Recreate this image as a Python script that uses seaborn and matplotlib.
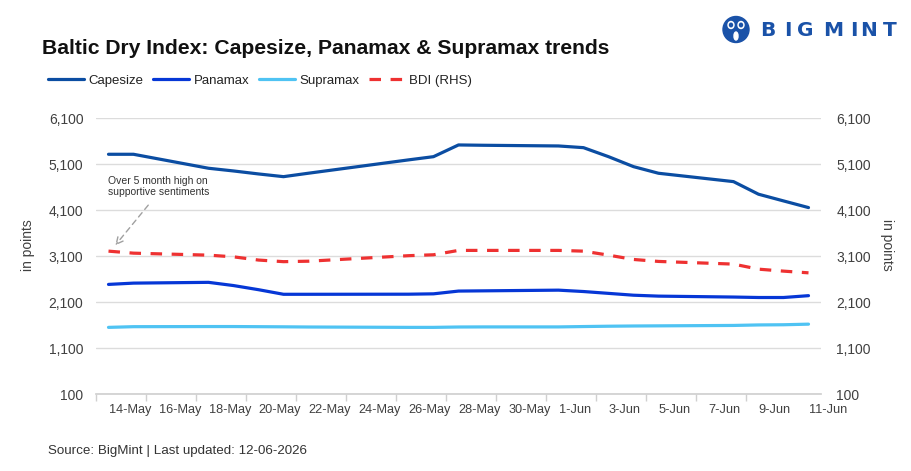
import numpy as np
import pandas as pd
import matplotlib
matplotlib.use("Agg")
import matplotlib.pyplot as plt
import matplotlib.dates as mdates
from matplotlib.ticker import FuncFormatter
from matplotlib.patches import Circle, Ellipse
import seaborn as sns

# data
dates = ['2026-05-14', '2026-05-15', '2026-05-18', '2026-05-19', '2026-05-20',
         '2026-05-21', '2026-05-22', '2026-05-26', '2026-05-27', '2026-05-28',
         '2026-05-29', '2026-06-01', '2026-06-02', '2026-06-03', '2026-06-04',
         '2026-06-05', '2026-06-08', '2026-06-09', '2026-06-10', '2026-06-11']
capesize = [5317, 5317, 5013, 4954, 4889, 4830, 4905, 5195, 5265, 5520,
            5513, 5498, 5461, 5265, 5048, 4904, 4722, 4448, 4302, 4157]
panamax = [2485, 2513, 2530, 2460, 2370, 2270, 2270, 2272, 2280, 2340,
           2345, 2360, 2330, 2290, 2250, 2230, 2210, 2200, 2200, 2240]
supramax = [1550, 1565, 1568, 1568, 1565, 1562, 1558, 1550, 1550, 1558,
            1560, 1560, 1568, 1575, 1580, 1583, 1592, 1603, 1607, 1620]
bdi = [3209, 3165, 3122, 3085, 3015, 2980, 2990, 3110, 3130, 3225,
       3225, 3225, 3209, 3122, 3028, 2985, 2927, 2817, 2774, 2737]

xtick_dates = ['2026-05-14', '2026-05-16', '2026-05-18', '2026-05-20', '2026-05-22',
               '2026-05-24', '2026-05-26', '2026-05-28', '2026-05-30', '2026-06-01',
               '2026-06-03', '2026-06-05', '2026-06-07', '2026-06-09', '2026-06-11']
xtick_labels = ['14-May', '16-May', '18-May', '20-May', '22-May', '24-May', '26-May',
                '28-May', '30-May', '1-Jun', '3-Jun', '5-Jun', '7-Jun', '9-Jun', '11-Jun']
yticks = [100, 1100, 2100, 3100, 4100, 5100, 6100]

df = pd.DataFrame({'date': pd.to_datetime(dates), 'Capesize': capesize,
                   'Panamax': panamax, 'Supramax': supramax, 'BDI (RHS)': bdi})

sns.set_theme(style='white')
plt.rcParams['font.family'] = ['Liberation Sans', 'DejaVu Sans']

W, H = 912, 471
fig = plt.figure(figsize=(W / 100, H / 100), dpi=100)
ax = fig.add_axes([96 / W, 1 - 394 / H, (821 - 96) / W, (394 - 118.3) / H])
ax2 = ax.twinx()

c_cape, c_pana, c_supra, c_bdi = '#0B4DA2', '#0637D6', '#4FC3F3', '#EE3131'
sns.lineplot(data=df, x='date', y='Capesize', ax=ax, color=c_cape, lw=2.3, label='Capesize')
sns.lineplot(data=df, x='date', y='Panamax', ax=ax, color=c_pana, lw=2.3, label='Panamax')
sns.lineplot(data=df, x='date', y='Supramax', ax=ax, color=c_supra, lw=2.3, label='Supramax')
sns.lineplot(data=df, x='date', y='BDI (RHS)', ax=ax2, color=c_bdi, lw=2.3,
             label='BDI (RHS)', linestyle=(0, (3.6, 3.0)))

tc = '#404040'
fmt = FuncFormatter(lambda v, p: f'{int(v):,}')
for a in (ax, ax2):
    a.set_ylim(100, 6100)
    a.set_yticks(yticks)
    a.yaxis.set_major_formatter(fmt)
    a.set_ylabel('')
    a.set_xlabel('')
    for s in a.spines.values():
        s.set_visible(False)
ax.spines['bottom'].set_visible(True)
ax.spines['bottom'].set_color('#D0D0D0')
ax.yaxis.grid(True, color='#DCDCDC', lw=1)
ax.set_axisbelow(True)
ax.tick_params(axis='y', length=0, pad=9, labelsize=10, labelcolor=tc)
ax2.tick_params(axis='y', length=0, pad=11, labelsize=10, labelcolor=tc)

x0 = mdates.date2num(pd.Timestamp('2026-05-13 12:00'))
x1 = mdates.date2num(pd.Timestamp('2026-06-11 12:00'))
ax.set_xlim(x0, x1)
ax.set_xticks(mdates.date2num(pd.to_datetime(xtick_dates)), xtick_labels, ha='left')
ax.set_xticks(np.arange(x0, x1 - 1, 2), minor=True)
ax.tick_params(axis='x', which='major', length=0, pad=7, labelsize=9.2, labelcolor=tc)
ax.tick_params(axis='x', which='minor', length=5, width=1, color='#D0D0D0', bottom=True)

# legend
h1, l1 = ax.get_legend_handles_labels()
h2, l2 = ax2.get_legend_handles_labels()
ax.get_legend().remove()
ax2.get_legend().remove()
fig.legend(h1 + h2, l1 + l2, loc='center left', bbox_to_anchor=(48 / W, 1 - 81 / H),
           ncol=4, frameon=False, fontsize=9.5, handlelength=2.75, handletextpad=0.3,
           columnspacing=0.75, borderpad=0, borderaxespad=0, labelcolor='#222222')

# titles and notes
fig.text(42 / W, 1 - 48 / H, 'Baltic Dry Index: Capesize, Panamax & Supramax trends',
         fontsize=15.2, fontweight='bold', color='#111111', va='center')
fig.text(48 / W, 1 - 451 / H, 'Source: BigMint | Last updated: 12-06-2026',
         fontsize=9.6, color='#333333', va='center')
fig.text(28 / W, 1 - 245 / H, 'in points', rotation=90, fontsize=10, color=tc,
         ha='center', va='center')
fig.text(887 / W, 1 - 245 / H, 'in points', rotation=270, fontsize=10, color=tc,
         ha='center', va='center')

# annotation
fig.text(108 / W, 1 - 176 / H, 'Over 5 month high on\nsupportive sentiments',
         fontsize=7.5, color='#333333', va='top', linespacing=1.1)
ax2.annotate('', xy=(mdates.date2num(pd.Timestamp(dates[0])) + 0.2, bdi[0] + 80),
             xytext=(150, H - 203), textcoords='figure pixels',
             arrowprops=dict(arrowstyle='->', color='#A0A0A0', lw=1, ls=(0, (4, 3))))

# logo
blue = '#1A52A8'
tr = fig.dpi_scale_trans
fig.add_artist(Circle((7.36, (H - 29.5) / 100), 0.13, color=blue, transform=tr))
for dx in (-0.05, 0.05):
    fig.add_artist(Ellipse((7.36 + dx, (H - 25) / 100), 0.06, 0.07, color='white', transform=tr))
    fig.add_artist(Ellipse((7.36 + dx, (H - 25) / 100), 0.03, 0.035, color=blue, transform=tr))
fig.add_artist(Ellipse((7.36, (H - 36) / 100), 0.04, 0.08, color='white', transform=tr))
for ch, px in zip('BIGMINT', [768, 788, 805, 833, 854, 869, 890]):
    fig.text(px / W, 1 - 30 / H, ch, fontsize=14.5, fontweight='heavy', color=blue,
             va='center', ha='center', family='DejaVu Sans')

fig.savefig('out.png', dpi=100)
